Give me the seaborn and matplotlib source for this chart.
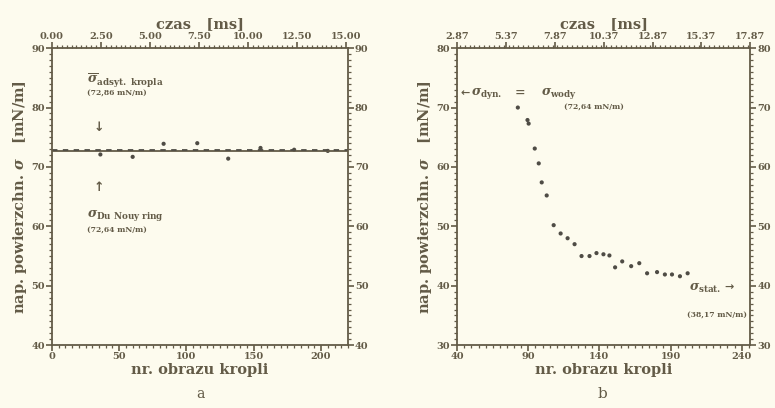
import numpy as np
import pandas as pd
import matplotlib
matplotlib.use("Agg")
import matplotlib.pyplot as plt
from matplotlib.ticker import MultipleLocator, FixedLocator
import seaborn as sns

# ---- panel a: hanging drop, pure water ----
a_frame = [36, 60, 83, 108, 131, 155, 180, 205]
a_sigma = [72.1, 71.7, 73.9, 74.0, 71.4, 73.2, 72.9, 72.7]
a_mean_drop = 72.86
a_ring = 72.64

# ---- panel b: dynamic surface tension ----
b_frame = [82.6, 89.4, 90.2, 94.5, 97.3, 99.4, 102.9, 107.8, 112.7, 117.6, 122.5,
           127.4, 133.0, 137.9, 142.8, 147.0, 151.0, 156.0, 162.3, 168.0,
           173.5, 180.5, 186.0, 191.0, 196.6, 202.0]
b_sigma = [70.0, 67.9, 67.3, 63.1, 60.6, 57.4, 55.2, 50.2, 48.8, 48.0, 47.0,
           45.0, 45.0, 45.5, 45.3, 45.1, 43.1, 44.1, 43.3, 43.8,
           42.1, 42.3, 41.9, 41.9, 41.6, 42.1]

a_xticks = [0, 50, 100, 150, 200]
a_yticks = [40, 50, 60, 70, 80, 90]
a_top_ticks = [0.0, 2.5, 5.0, 7.5, 10.0, 12.5, 15.0]
b_xticks = [40, 90, 140, 190, 240]
b_yticks = [30, 40, 50, 60, 70, 80]
b_top_ticks = [2.87, 5.37, 7.87, 10.37, 12.87, 15.37, 17.87]

sns.set_theme(style="ticks")
INK = "#635b47"
DOT = "#4f4c45"
BG = "#fdfbee"
plt.rcParams.update({
    "font.family": ["DejaVu Serif"],
    "font.weight": "bold",
    "axes.labelweight": "bold",
    "axes.edgecolor": INK,
    "axes.labelcolor": INK,
    "xtick.color": INK,
    "ytick.color": INK,
    "text.color": INK,
    "axes.linewidth": 1.3,
    "mathtext.fontset": "dejavuserif",
})

fig = plt.figure(figsize=(7.75, 4.08), dpi=100, facecolor=BG)
ax_a = fig.add_axes([0.067, 0.154, 0.382, 0.728])
ax_b = fig.add_axes([0.590, 0.154, 0.378, 0.728])


def style_axes(ax, xlim, ylim, xticks, yticks, xminor, top_lim, top_ticks, top_fmt):
    ax.set_facecolor(BG)
    ax.set_xlim(*xlim)
    ax.set_ylim(*ylim)
    ax.xaxis.set_major_locator(FixedLocator(xticks))
    ax.yaxis.set_major_locator(FixedLocator(yticks))
    ax.xaxis.set_minor_locator(MultipleLocator(xminor))
    ax.yaxis.set_minor_locator(MultipleLocator(1))
    ax.tick_params(which="both", direction="out", left=True, right=True,
                   labelright=True, labelsize=7, pad=1)
    ax.tick_params(which="major", length=4, width=1.2)
    ax.tick_params(which="minor", length=2.5, width=0.9)
    for s in ax.spines.values():
        s.set_visible(True)
    top = ax.twiny()
    top.set_xlim(*top_lim)
    top.xaxis.set_major_locator(FixedLocator(top_ticks))
    top.xaxis.set_minor_locator(MultipleLocator(0.25))
    top.set_xticklabels([top_fmt.format(t) for t in top_ticks])
    top.tick_params(which="both", direction="out", labelsize=7, pad=1)
    top.tick_params(which="major", length=4, width=1.2)
    top.tick_params(which="minor", length=2.5, width=0.9)
    top.set_xlabel("czas   [ms]", fontsize=10.5, labelpad=3, weight="bold")
    for s in top.spines.values():
        s.set_visible(False)
    return top


def axis_labels(ax):
    ax.set_xlabel("nr. obrazu kropli", fontsize=10.5, labelpad=1, weight="bold")
    ax.set_ylabel(r"nap. powierzchn. $\sigma$   [mN/m]", fontsize=10.5,
                  labelpad=2, weight="bold")


# panel a
style_axes(ax_a, (0, 220), (40, 90), a_xticks, a_yticks, 5,
           (0, 15.1), a_top_ticks, "{:.2f}")
ax_a.axhline(a_ring, color=INK, lw=1.3)
ax_a.axhline(a_mean_drop, color=DOT, lw=1.3, ls=(0, (3, 3)))
df_a = pd.DataFrame({"frame": a_frame, "sigma": a_sigma})
sns.scatterplot(data=df_a, x="frame", y="sigma", ax=ax_a, s=9, color=DOT,
                edgecolor="none", legend=False)
axis_labels(ax_a)
ax_a.text(26, 84.5, r"$\overline{\sigma}_{\mathrm{adsyt.\ kropla}}$", fontsize=9,
          va="center")
ax_a.text(26, 82.4, "(72,86 mN/m)", fontsize=5.5, va="center")
ax_a.text(35, 76.6, "↓", fontsize=9, ha="center", va="center",
          family=["DejaVu Sans"])
ax_a.text(35, 66.6, "↑", fontsize=9, ha="center", va="center",
          family=["DejaVu Sans"])
ax_a.text(26, 61.8, r"$\sigma_{\mathrm{Du\ Nouy\ ring}}$", fontsize=9, va="center")
ax_a.text(26, 59.3, "(72,64 mN/m)", fontsize=5.5, va="center")

# panel b
style_axes(ax_b, (40, 246), (30, 80), b_xticks, b_yticks, 5,
           (2.87, 17.87), b_top_ticks, "{:.2f}")
df_b = pd.DataFrame({"frame": b_frame, "sigma": b_sigma})
sns.scatterplot(data=df_b, x="frame", y="sigma", ax=ax_b, s=9, color=DOT,
                edgecolor="none", legend=False)
axis_labels(ax_b)
ax_b.text(42, 72.4, "←", fontsize=8, va="center", family=["DejaVu Sans"])
ax_b.text(50, 72.4, r"$\sigma_{\mathrm{dyn.}}$", fontsize=9, va="center")
ax_b.text(84, 72.4, "=", fontsize=9, va="center", ha="center")
ax_b.text(99, 72.4, r"$\sigma_{\mathrm{wody}}$", fontsize=9, va="center")
ax_b.text(115, 70.0, "(72,64 mN/m)", fontsize=5.5, va="center")
ax_b.text(203, 39.6, r"$\sigma_{\mathrm{stat.}}$", fontsize=9, va="center")
ax_b.text(228, 39.8, "→", fontsize=8, va="center", family=["DejaVu Sans"])
ax_b.text(244, 35.0, "(38,17 mN/m)", fontsize=5.5, va="center", ha="right")

fig.text(0.258, 0.025, "a", fontsize=10, ha="center", weight="normal")
fig.text(0.777, 0.025, "b", fontsize=11, ha="center", weight="normal")

fig.savefig("out.png", dpi=100, facecolor=BG)
